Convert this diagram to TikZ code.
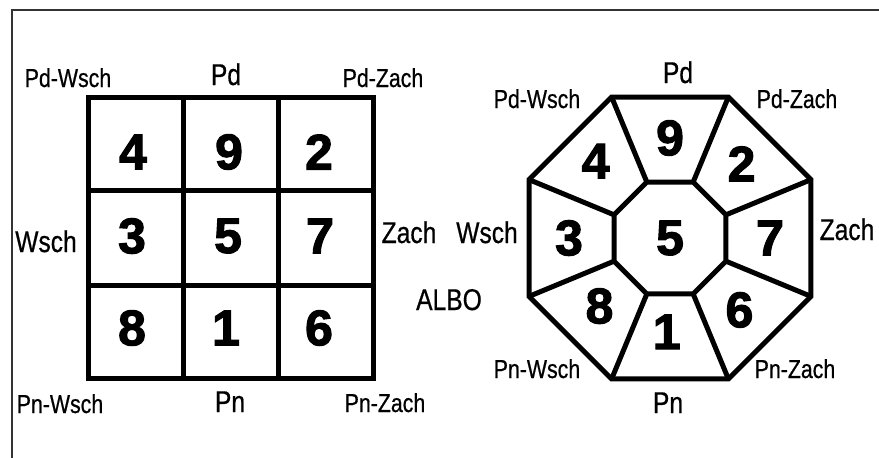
\documentclass[tikz,border=0pt]{standalone}
\usepackage{fontspec}
\setmainfont{Liberation Sans}
\newfontfamily\condfont[FakeStretch=0.82,FakeBold=0.6]{Liberation Sans}
\newfontfamily\digitfont[FakeBold=2.2]{Liberation Sans Bold}
\begin{document}
\begin{tikzpicture}[x=1pt,y=-1pt,
  heavy/.style={line width=5pt, line join=miter},
  frameline/.style={line width=1.8pt, draw=black!80},
  smalllab/.style={font=\condfont\fontsize{26}{26}\selectfont, anchor=base, inner sep=0pt},
  biglab/.style={font=\condfont\fontsize{30}{30}\selectfont, anchor=base, inner sep=0pt},
  digit/.style={font=\digitfont\fontsize{50}{50}\selectfont, inner sep=0pt},
]
\useasboundingbox (0,0) rectangle (879,458);
\coordinate (f1) at (12,458);
\coordinate (f2) at (12,10);
\coordinate (f3) at (879,10);
\draw[frameline] (f1) -- (f2) -- (f3);

% ---- square grid ----
\coordinate (g00) at (88,97);
\coordinate (g33) at (373,378);
\draw[heavy] (g00) rectangle (g33);
\coordinate (gt1) at (183,97);  \coordinate (gb1) at (183,378);
\coordinate (gt2) at (278,97);  \coordinate (gb2) at (278,378);
\coordinate (gl1) at (88,190);  \coordinate (gr1) at (373,190);
\coordinate (gl2) at (88,285);  \coordinate (gr2) at (373,285);
\draw[heavy] (gt1) -- (gb1);
\draw[heavy] (gt2) -- (gb2);
\draw[heavy] (gl1) -- (gr1);
\draw[heavy] (gl2) -- (gr2);

\node[digit] (s4) at (133,152) {4};
\node[digit] (s9) at (229,152) {9};
\node[digit] (s2) at (319,152) {2};
\node[digit] (s3) at (132,236) {3};
\node[digit] (s5) at (228,236) {5};
\node[digit] (s7) at (320,236) {7};
\node[digit] (s8) at (132,328) {8};
\node[digit] (s1) at (226,328) {1};
\node[digit] (s6) at (319,328) {6};

\node[smalllab] (lpdw) at (68,87) {Pd-Wsch};
\node[biglab]   (lpd)  at (226,85) {Pd};
\node[smalllab] (lpdz) at (383,87) {Pd-Zach};
\node[biglab]   (lw)   at (46,252) {Wsch};
\node[biglab]   (lz)   at (409,243) {Zach};
\node[smalllab] (lpnw) at (60,413) {Pn-Wsch};
\node[biglab]   (lpn)  at (230,412) {Pn};
\node[smalllab] (lpnz) at (385,412) {Pn-Zach};

\node[biglab] (albo) at (449,310) {ALBO};

% ---- octagon ----
\begin{scope}[shift={(670,238)}]
  \foreach \k in {1,...,8} {
    \coordinate (o\k) at ({22.5+45*(\k-1)}:152.6pt);
    \coordinate (i\k) at ({22.5+45*(\k-1)}:60.6pt);
  }
  \draw[heavy] (o1) -- (o2) -- (o3) -- (o4) -- (o5) -- (o6) -- (o7) -- (o8) -- cycle;
  \draw[heavy] (i1) -- (i2) -- (i3) -- (i4) -- (i5) -- (i6) -- (i7) -- (i8) -- cycle;
  \foreach \k in {1,...,8} { \draw[heavy] (i\k) -- (o\k); }
  \node[digit] (q5) at (0,0) {5};
  \node[digit] (q9) at (90:100pt) {9};
  \node[digit] (q2) at (46:103pt) {2};
  \node[digit] (q7) at (0:100pt) {7};
  \node[digit] (q6) at (-46:100pt) {6};
  \node[digit] (q1) at (-92:94pt) {1};
  \node[digit] (q8) at (-136:98pt) {8};
  \node[digit] (q3) at (180:101pt) {3};
  \node[digit] (q4) at (134:107pt) {4};
\end{scope}

\node[biglab]   (rpd)  at (678,83) {Pd};
\node[smalllab] (rpdw) at (537,108) {Pd-Wsch};
\node[smalllab] (rpdz) at (797,108) {Pd-Zach};
\node[biglab]   (rw)   at (487,243) {Wsch};
\node[biglab]   (rz)   at (847,240) {Zach};
\node[smalllab] (rpnw) at (537,378) {Pn-Wsch};
\node[biglab]   (rpn)  at (668,413) {Pn};
\node[smalllab] (rpnz) at (795,378) {Pn-Zach};
\end{tikzpicture}
\end{document}
